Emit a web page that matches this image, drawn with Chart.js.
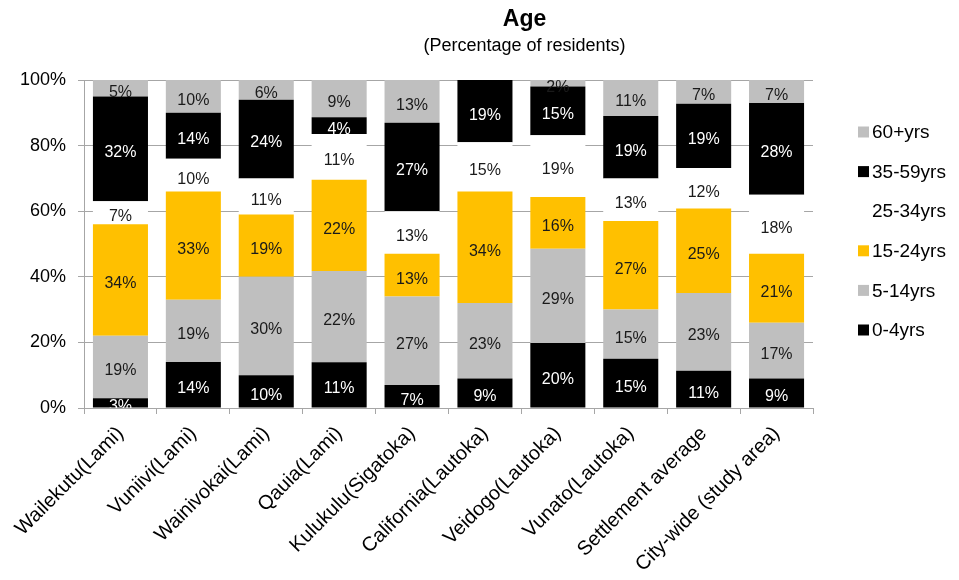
<!DOCTYPE html>
<html>
<head>
<meta charset="utf-8">
<script src="https://cdn.jsdelivr.net/npm/chart.js@4"></script>
<style>
  html, body { margin: 0; padding: 0; background: #fff; }
  #wrap { width: 959px; height: 580px; }
</style>
</head>
<body>
<div id="wrap"><canvas id="ageChart" width="959" height="580"></canvas></div>
<script>
// categories (settlements)
const places = ['Wailekutu(Lami)', 'Vuniivi(Lami)', 'Wainivokai(Lami)', 'Qauia(Lami)', 'Kulukulu(Sigatoka)',
  'California(Lautoka)', 'Veidogo(Lautoka)', 'Vunato(Lautoka)', 'Settlement average', 'City-wide (study area)'];

// values as labelled on the chart (percent)
const age0to4   = [3, 14, 10, 11, 7, 9, 20, 15, 11, 9];
const age5to14  = [19, 19, 30, 22, 27, 23, 29, 15, 23, 17];
const age15to24 = [34, 33, 19, 22, 13, 34, 16, 27, 25, 21];
const age25to34 = [7, 10, 11, 11, 13, 15, 19, 13, 12, 18];
const age35to59 = [32, 14, 24, 4, 27, 19, 15, 19, 19, 28];
const age60plus = [5, 10, 6, 9, 13, 0, 2, 11, 7, 7];

const yTicks = [0, 20, 40, 60, 80, 100];

const FONT = '"Liberation Sans", Arial, Helvetica, sans-serif';

const series = [
  { label: '0-4yrs',   values: age0to4,   color: '#000000', text: '#ffffff' },
  { label: '5-14yrs',  values: age5to14,  color: '#bfbfbf', text: '#1a1a1a' },
  { label: '15-24yrs', values: age15to24, color: '#ffc000', text: '#1a1a1a' },
  { label: '25-34yrs', values: age25to34, color: '#ffffff', text: '#1a1a1a' },
  { label: '35-59yrs', values: age35to59, color: '#000000', text: '#ffffff' },
  { label: '60+yrs',   values: age60plus, color: '#bfbfbf', text: '#1a1a1a' }
];

// 100% stacked: each column is scaled to its own total
const totals = places.map((p, i) => series.reduce((s, d) => s + d.values[i], 0));

const datasets = series.map(s => ({
  label: s.label,
  data: s.values.map((v, i) => v / totals[i] * 100),
  raw: s.values,
  textColor: s.text,
  backgroundColor: s.color,
  borderWidth: 0,
  barPercentage: 0.755,
  categoryPercentage: 1.0
}));

// value labels in the middle of each segment (clipped to the plot like the original)
const segLabels = {
  id: 'segLabels',
  afterDatasetsDraw(chart) {
    const ctx = chart.ctx, area = chart.chartArea;
    ctx.save();
    ctx.beginPath();
    ctx.rect(area.left, area.top, area.right - area.left, area.bottom - area.top);
    ctx.clip();
    ctx.font = '16px ' + FONT;
    ctx.textAlign = 'center';
    ctx.textBaseline = 'middle';
    chart.data.datasets.forEach((ds, di) => {
      chart.getDatasetMeta(di).data.forEach((bar, i) => {
        const v = ds.raw[i];
        if (!v) return;
        ctx.fillStyle = ds.textColor;
        ctx.fillText(v + '%', bar.x, (bar.y + bar.base) / 2 + 4);
      });
    });
    ctx.restore();
  }
};

// title + legend placed the way the spreadsheet chart had them
const frame = {
  id: 'frame',
  afterDraw(chart) {
    const ctx = chart.ctx, area = chart.chartArea;
    ctx.save();
    ctx.fillStyle = '#000';
    ctx.textAlign = 'center';
    ctx.textBaseline = 'middle';
    const cx = (area.left + chart.width) / 2 + 3;
    ctx.font = 'bold 23px ' + FONT;
    ctx.fillText('Age', cx, 20);
    ctx.font = '18px ' + FONT;
    ctx.fillText('(Percentage of residents)', cx, 46);

    ctx.textAlign = 'left';
    ctx.font = '19px ' + FONT;
    const items = chart.data.datasets.slice().reverse();
    items.forEach((ds, k) => {
      const y = area.top + 52 + k * 39.6;
      const x = area.right + 45;
      ctx.fillStyle = ds.backgroundColor;
      ctx.fillRect(x, y - 5.5, 11, 11);
      ctx.fillStyle = '#000';
      ctx.fillText(ds.label, x + 14, y + 1);
    });
    ctx.restore();
  }
};

new Chart(document.getElementById('ageChart'), {
  type: 'bar',
  data: { labels: places, datasets: datasets },
  plugins: [segLabels, frame],
  options: {
    responsive: false,
    animation: false,
    layout: { padding: { left: 0, right: 146, top: 80, bottom: 0 } },
    plugins: {
      legend: { display: false },
      title: { display: false },
      tooltip: { enabled: false }
    },
    scales: {
      x: {
        stacked: true,
        afterFit: axis => { axis.height = 172; },
        grid: { display: true, drawOnChartArea: false, offset: true, color: '#a6a6a6', tickLength: 6 },
        border: { color: '#a6a6a6' },
        ticks: {
          color: '#000',
          font: { family: FONT, size: 20 },
          minRotation: 45,
          maxRotation: 45,
          padding: 8
        }
      },
      y: {
        stacked: true,
        min: 0,
        max: 100,
        afterFit: axis => { axis.width = 84; },
        afterBuildTicks: axis => { axis.ticks = yTicks.map(v => ({ value: v })); },
        grid: { color: '#a6a6a6', tickLength: 6 },
        border: { color: '#a6a6a6' },
        ticks: {
          color: '#000',
          font: { family: FONT, size: 18 },
          callback: v => v + '%',
          padding: 12
        }
      }
    }
  }
});
</script>
</body>
</html>
